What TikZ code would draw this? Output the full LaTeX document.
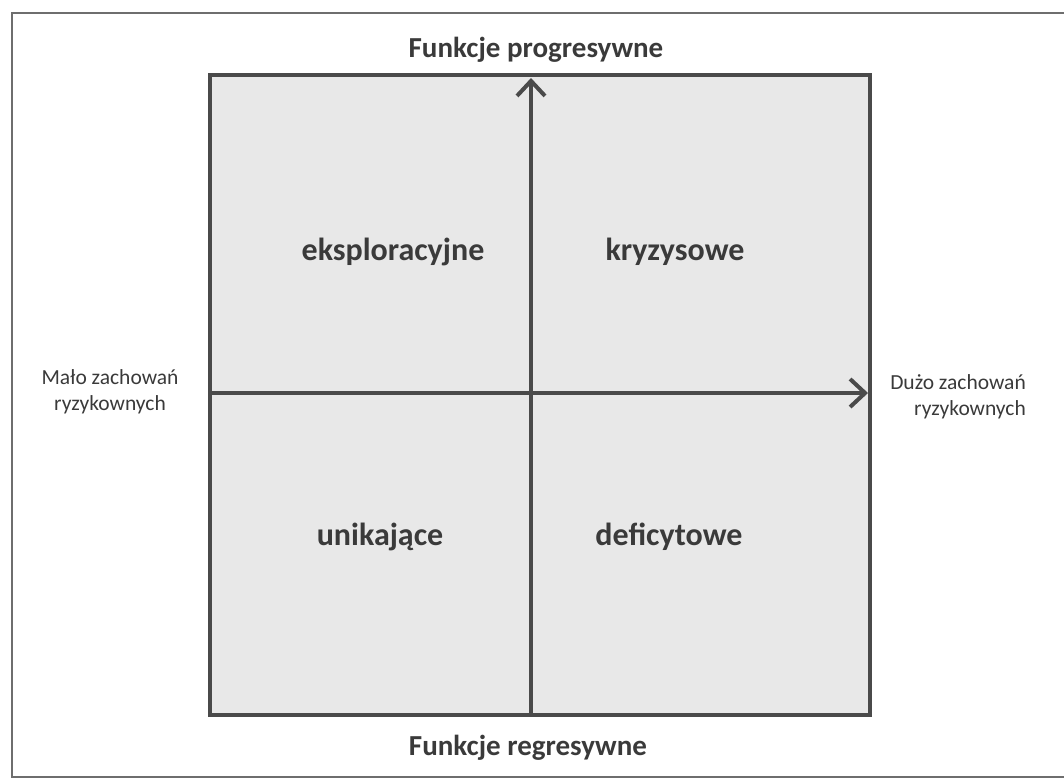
\documentclass[tikz,border=0pt]{standalone}
\usepackage{fontspec}
\setmainfont{Carlito}
\usetikzlibrary{arrows.meta}
\definecolor{lineclr}{HTML}{4A4A4A}
\definecolor{boxfill}{HTML}{E8E8E8}
\definecolor{txtclr}{HTML}{3A3A3A}
\tikzset{
  frameline/.style={draw=lineclr!80, line width=2.2pt},
  quadbox/.style={draw=lineclr, line width=3.5pt, fill=boxfill},
  axisline/.style={draw=lineclr, line width=3.8pt, -{Straight Barb[length=15pt, width=28pt, line width=4pt]}},
  quadlabel/.style={font=\fontsize{32}{38}\selectfont\bfseries, text=txtclr},
  titlelabel/.style={font=\fontsize{29}{34}\selectfont\bfseries, text=txtclr},
  sidelabel/.style={font=\fontsize{21.5}{26}\selectfont, text=txtclr, inner sep=0pt}
}
\begin{document}
\begin{tikzpicture}[x=1pt, y=-1pt]
\useasboundingbox (0,0) rectangle (1064,780);
\clip (0,0) rectangle (1064,780);
% outer frame (open at right)
\draw[frameline] (1070,13) -- (12,13) -- (12,777) -- (1070,777);
% quadrant box
\coordinate (tl) at (210,75);
\coordinate (br) at (870,715);
\draw[quadbox] (tl) rectangle (br);
% axes
\coordinate (vbot) at (531,715);
\coordinate (vtop) at (531,78);
\coordinate (hleft) at (210,393);
\coordinate (hright) at (868,393);
\draw[axisline] (vbot) -- (vtop);
\draw[axisline] (hleft) -- (hright);
% titles
\node[titlelabel] (top) at (536,50) {Funkcje progresywne};
\node[titlelabel] (bottom) at (528,748) {Funkcje regresywne};
% quadrant labels
\node[quadlabel] (q1) at (393,252) {eksploracyjne};
\node[quadlabel] (q2) at (675,252) {kryzysowe};
\node[quadlabel] (q3) at (380,537) {unikające};
\node[quadlabel] (q4) at (669,537) {deficytowe};
% side labels
\node[sidelabel, align=center] (left) at (110,392) {Mało zachowań\\ryzykownych};
\node[sidelabel, align=right, anchor=east] (right) at (1026,397) {Dużo zachowań\\ryzykownych};
\end{tikzpicture}
\end{document}
